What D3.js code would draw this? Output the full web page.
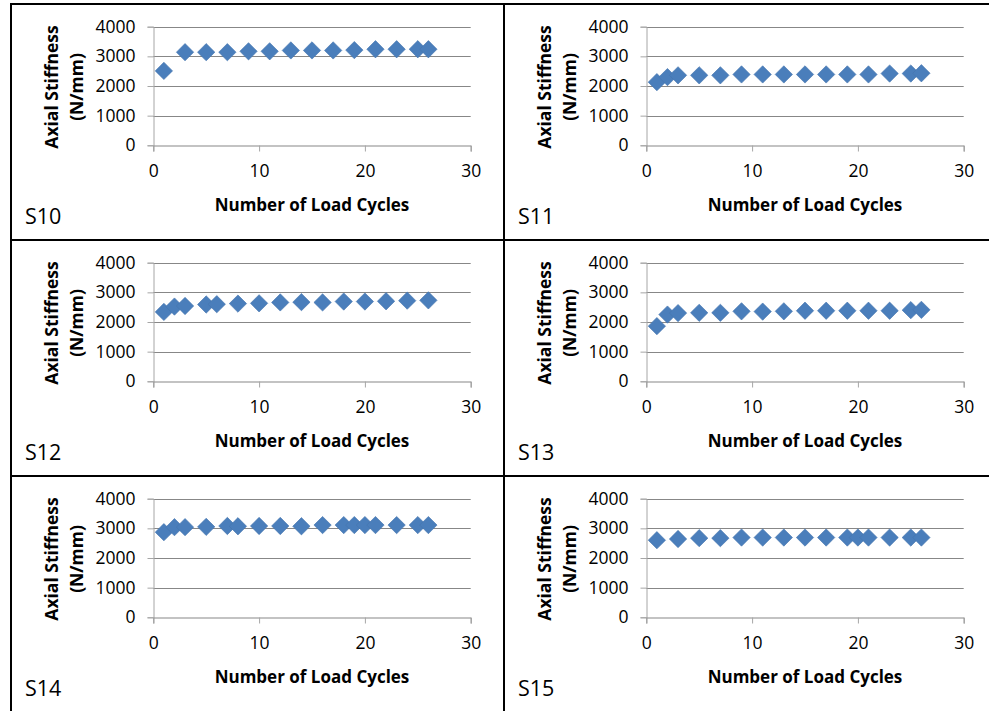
<!DOCTYPE html>
<html>
<head>
<meta charset="utf-8">
<script src="https://cdn.jsdelivr.net/npm/d3@7"></script>
<style>
  html, body { margin: 0; padding: 0; background: #fff; }
  svg { display: block; }
  .tick text { font-family: "Open Sans", sans-serif; font-size: 17.5px; fill: #000; }
</style>
</head>
<body>
<svg id="chart" width="989" height="711"></svg>
<script>
// ---- Data ----
const yTicks = [0, 1000, 2000, 3000, 4000];
const xTicks = [0, 10, 20, 30];
const xTitle = "Number of Load Cycles";
const yTitleLines = ["Axial Stiffness", "(N/mm)"];
const panelNames = ["S10", "S11", "S12", "S13", "S14", "S15"];

const s10Cycles = [1, 3, 5, 7, 9, 11, 13, 15, 17, 19, 21, 23, 25, 26];
const s10Stiffness = [2510, 3140, 3140, 3140, 3170, 3170, 3200, 3200, 3200, 3210, 3240, 3240, 3240, 3240];

const s11Cycles = [1, 2, 3, 5, 7, 9, 11, 13, 15, 17, 19, 21, 23, 25, 26];
const s11Stiffness = [2130, 2300, 2360, 2360, 2360, 2390, 2390, 2390, 2390, 2390, 2390, 2390, 2420, 2420, 2430];

const s12Cycles = [1, 2, 3, 5, 6, 8, 10, 12, 14, 16, 18, 20, 22, 24, 26];
const s12Stiffness = [2340, 2520, 2540, 2590, 2600, 2620, 2630, 2660, 2670, 2660, 2690, 2690, 2700, 2720, 2730];

const s13Cycles = [1, 2, 3, 5, 7, 9, 11, 13, 15, 17, 19, 21, 23, 25, 26];
const s13Stiffness = [1860, 2250, 2300, 2310, 2310, 2360, 2350, 2360, 2380, 2380, 2380, 2380, 2380, 2400, 2410];

const s14Cycles = [1, 2, 3, 5, 7, 8, 10, 12, 14, 16, 18, 19, 20, 21, 23, 25, 26];
const s14Stiffness = [2870, 3040, 3040, 3050, 3080, 3070, 3080, 3080, 3070, 3110, 3110, 3110, 3110, 3110, 3110, 3110, 3110];

const s15Cycles = [1, 3, 5, 7, 9, 11, 13, 15, 17, 19, 20, 21, 23, 25, 26];
const s15Stiffness = [2600, 2640, 2670, 2670, 2690, 2690, 2690, 2690, 2690, 2690, 2690, 2690, 2690, 2690, 2690];

const cyclesList = [s10Cycles, s11Cycles, s12Cycles, s13Cycles, s14Cycles, s15Cycles];
const stiffnessList = [s10Stiffness, s11Stiffness, s12Stiffness, s13Stiffness, s14Stiffness, s15Stiffness];

// ---- Layout ----
const svg = d3.select("#chart");
const cellW = 493, cellH = 236;
const gridX0 = 11, gridY0 = 4;
const plot = { left: 142.3, right: 459.7, top: 22.7, bottom: 141.3 };
const markerColor = "#4A7EBB";
const gridColor = "#878787";
const axisColor = "#A6A6A6";

const x = d3.scaleLinear().domain([0, 30]).range([plot.left, plot.right]);
const y = d3.scaleLinear().domain([0, 4000]).range([plot.bottom, plot.top]);
const diamond = d3.symbol().type(d3.symbolSquare).size(150);

panelNames.forEach((name, i) => {
  const col = i % 2, row = Math.floor(i / 2);
  const g = svg.append("g")
    .attr("transform", `translate(${gridX0 + col * cellW},${gridY0 + row * cellH})`);

  // gridlines
  g.append("g").selectAll("line").data(yTicks.filter(d => d > 0)).join("line")
    .attr("x1", plot.left).attr("x2", plot.right)
    .attr("y1", d => Math.round(y(d)) + 0.5).attr("y2", d => Math.round(y(d)) + 0.5)
    .attr("stroke", gridColor).attr("stroke-width", 1);

  // y axis
  const ya = g.append("g").attr("transform", `translate(${Math.round(plot.left) + 0.5},0)`)
    .call(d3.axisLeft(y).tickValues(yTicks).tickSize(6).tickPadding(12).tickFormat(d3.format("d")));
  ya.select(".domain").attr("stroke", axisColor);
  ya.selectAll(".tick line").attr("stroke", axisColor);

  // x axis
  const xa = g.append("g").attr("transform", `translate(0,${Math.round(plot.bottom) + 0.5})`)
    .call(d3.axisBottom(x).tickValues(xTicks).tickSize(6).tickPadding(13.5));
  xa.select(".domain").attr("stroke", gridColor);
  xa.selectAll(".tick line").attr("stroke", axisColor);

  // markers
  const cyc = cyclesList[i], stf = stiffnessList[i];
  g.append("g").selectAll("path").data(cyc.map((c, k) => [c, stf[k]])).join("path")
    .attr("d", diamond)
    .attr("transform", d => `translate(${x(d[0])},${y(d[1])}) rotate(45)`)
    .attr("fill", markerColor)
    .attr("stroke", "#4675AE").attr("stroke-width", 0.6);

  // x title
  g.append("text")
    .attr("x", (plot.left + plot.right) / 2).attr("y", 206.5)
    .attr("text-anchor", "middle")
    .attr("font-family", "Open Sans, sans-serif").attr("font-weight", "bold").attr("font-size", 17)
    .text(xTitle);

  // y title (two lines, rotated)
  const yt = g.append("text")
    .attr("transform", `translate(47,${(plot.top + plot.bottom) / 2 + 1}) rotate(-90)`)
    .attr("text-anchor", "middle")
    .attr("font-family", "Open Sans, sans-serif").attr("font-weight", "bold").attr("font-size", 17.5);
  yTitleLines.forEach((t, k) => {
    yt.append("tspan").attr("x", 0).attr("dy", k === 0 ? 0 : 25).text(t);
  });

  // panel label
  g.append("text")
    .attr("x", 14).attr("y", 219.5)
    .attr("font-family", "Open Sans, sans-serif").attr("font-size", 21.5)
    .text(name);
});

// cell borders
const borders = svg.append("g").attr("stroke", "#000").attr("stroke-width", 2).attr("fill", "none");
borders.append("rect").attr("x", gridX0).attr("y", gridY0).attr("width", cellW * 2).attr("height", cellH * 3);
[1, 2].forEach(r => borders.append("line")
  .attr("x1", gridX0).attr("x2", gridX0 + 2 * cellW)
  .attr("y1", gridY0 + r * cellH).attr("y2", gridY0 + r * cellH));
borders.append("line")
  .attr("x1", gridX0 + cellW).attr("x2", gridX0 + cellW)
  .attr("y1", gridY0).attr("y2", gridY0 + 3 * cellH);
</script>
</body>
</html>
